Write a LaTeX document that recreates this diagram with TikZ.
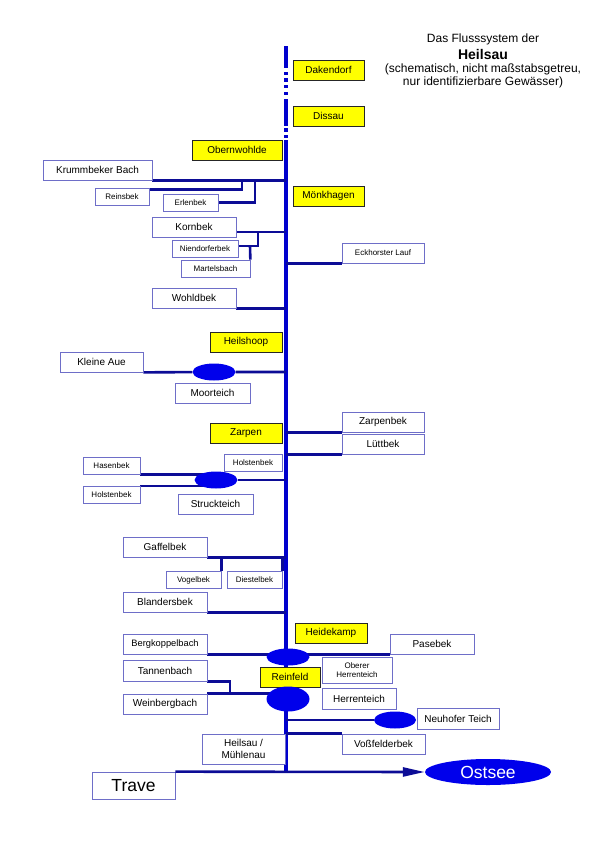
\documentclass[tikz,border=0pt]{standalone}
\usepackage{fontspec}
\setmainfont{Liberation Sans}
\usepackage{tikz}
\usetikzlibrary{arrows.meta,shapes.geometric,backgrounds}
\usepackage{xcolor}
\definecolor{hauptblau}{RGB}{0,0,205}
\definecolor{bachblau}{RGB}{12,12,150}
\definecolor{rahmen}{RGB}{110,110,200}
\definecolor{teichblau}{RGB}{0,0,235}
\definecolor{ortgelb}{RGB}{255,255,0}

\begin{document}
\begin{tikzpicture}[x=1pt, y=-1pt,
  font=\fontsize{10}{12}\selectfont,
  ort/.style={draw=black!85, fill=ortgelb, minimum height=20pt, inner sep=1pt, line width=0.8pt},
  bach/.style={draw=rahmen, fill=white, minimum height=20pt, inner sep=1pt, line width=0.7pt, align=center},
  klein/.style={bach, font=\fontsize{8}{9.5}\selectfont, minimum height=17pt},
  teich/.style={ellipse, fill=teichblau, minimum width=43pt, minimum height=17pt, inner sep=0pt},
  titelzeile/.style={font=\fontsize{12}{14}\selectfont, inner sep=0pt},
  fluss/.style={line width=2.6pt, color=bachblau},
  haupt/.style={line width=4.5pt, color=hauptblau}]
\useasboundingbox (0,0) rectangle (600,849);
% title
\node[titelzeile] (titel1) at (483,39) {Das Flusssystem der};
\node[titelzeile, font=\bfseries\fontsize{14}{16}\selectfont] (titel2) at (483,54) {Heilsau};
\node[titelzeile] (titel3) at (483,69) {(schematisch, nicht maßstabsgetreu,};
\node[titelzeile] (titel4) at (483,82) {nur identifizierbare Gewässer)};
% main river
\coordinate (quelle) at (286,46);
\coordinate (muendung) at (286,772);
% places
\node[ort, minimum width=71pt] (dakendorf) at (328.5,70) {Dakendorf};
\node[ort, minimum width=71pt] (dissau) at (328.5,116) {Dissau};
\node[ort, minimum width=90pt] (obernwohlde) at (237,150) {Obernwohlde};
\node[ort, minimum width=71pt] (moenkhagen) at (328.5,196) {Mönkhagen};
\node[ort, minimum width=72pt] (heilshoop) at (246,342) {Heilshoop};
\node[ort, minimum width=72pt] (zarpen) at (246,433) {Zarpen};
\node[ort, minimum width=72pt] (heidekamp) at (331,633) {Heidekamp};
\node[ort, minimum width=60pt] (reinfeld) at (290,677) {Reinfeld};
% upper tributaries
\node[bach, minimum width=109pt] (krummbeker) at (97.5,170) {Krummbeker Bach};
\node[klein, minimum width=54pt] (reinsbek) at (122,196.5) {Reinsbek};
\node[klein, minimum width=55pt] (erlenbek) at (190.5,202.5) {Erlenbek};
\node[bach, minimum width=84pt] (kornbek) at (194,227) {Kornbek};
\node[klein, minimum width=66pt] (niendorferbek) at (205,248.5) {Niendorferbek};
\node[klein, minimum width=69pt] (martelsbach) at (215.5,268.5) {Martelsbach};
\node[klein, minimum width=82pt, minimum height=20pt] (eckhorst) at (383,253) {Eckhorster Lauf};
\node[bach, minimum width=84pt] (wohldbek) at (194,298) {Wohldbek};
\node[bach, minimum width=83pt] (kleineaue) at (101.5,362) {Kleine Aue};
\node[teich] (moorteichP) at (214,372) {};
\node[bach, minimum width=75pt] (moorteich) at (212.5,393) {Moorteich};
% middle tributaries
\node[bach, minimum width=82pt] (zarpenbek) at (383,422) {Zarpenbek};
\node[bach, minimum width=82pt] (luettbek) at (383,444) {Lüttbek};
\node[klein, minimum width=58pt] (holstenbekA) at (253,462.5) {Holstenbek};
\node[klein, minimum width=57pt] (hasenbek) at (111.5,465.5) {Hasenbek};
\node[klein, minimum width=57pt] (holstenbekB) at (111.5,495) {Holstenbek};
\node[teich] (struckP) at (216,480) {};
\node[bach, minimum width=75pt] (struckteich) at (215.5,504) {Struckteich};
\node[bach, minimum width=84pt] (gaffelbek) at (165,547) {Gaffelbek};
\node[klein, minimum width=55pt] (vogelbek) at (193.5,580) {Vogelbek};
\node[klein, minimum width=55pt] (diestelbek) at (254.5,580) {Diestelbek};
\node[bach, minimum width=84pt] (blandersbek) at (165,602) {Blandersbek};
% lower tributaries
\node[bach, minimum width=84pt, font=\fontsize{9.3}{11}\selectfont] (bergkoppelbach) at (165,644) {Bergkoppelbach};
\node[bach, minimum width=84pt] (pasebek) at (432,644) {Pasebek};
\node[teich] (heideP) at (288,657) {};
\node[bach, minimum width=84pt, minimum height=21pt] (tannenbach) at (165,670.5) {Tannenbach};
\node[klein, minimum width=70pt, minimum height=26pt, font=\fontsize{8}{9}\selectfont] (obererherrenteich) at (357,670) {Oberer\\Herrenteich};
\node[bach, minimum width=84pt] (weinbergbach) at (165,704) {Weinbergbach};
\node[teich, minimum height=25pt] (reinfeldP) at (288,699) {};
\node[bach, minimum width=74pt, minimum height=21pt] (herrenteich) at (359,698.5) {Herrenteich};
\node[teich, minimum width=42pt] (neuhoferP) at (395,720) {};
\node[bach, minimum width=82pt, minimum height=21pt] (neuhofer) at (458,718.5) {Neuhofer Teich};
\node[bach, minimum width=83pt] (vossfelderbek) at (383.5,744) {Voßfelderbek};
\node[bach, minimum width=83pt, minimum height=30pt, font=\fontsize{10}{11.5}\selectfont] (muehlenau) at (243.5,749) {Heilsau /\\Mühlenau};
\node[bach, minimum width=83pt, minimum height=27pt, font=\fontsize{17.5}{20}\selectfont] (trave) at (133.5,785.5) {Trave};
\node[teich, minimum width=126pt, minimum height=26pt, text=white, font=\fontsize{17.5}{20}\selectfont] (ostsee) at (488,772) {Ostsee};
% junctions
\coordinate (j1) at (242,180);
\coordinate (j2) at (255,180);
\coordinate (j3) at (258,232);
\coordinate (j4) at (250,246);
\coordinate (j5) at (230,694);
\begin{scope}[on background layer]
\draw[haupt, dash pattern=on 22pt off 4pt on 3pt off 3pt on 4pt off 3pt on 3pt off 4pt on 3pt off 4pt on 27pt off 2pt on 4pt off 3pt on 3pt off 2pt on 700pt]
  (quelle) -- (muendung);
\draw[fluss] (krummbeker.south east) -- (krummbeker.south east -| quelle);
\draw[fluss] ([yshift=-2pt]reinsbek.north east) -| (j1);
\draw[fluss] (erlenbek.east) -| (j2);
\draw[fluss] ([yshift=-5pt]kornbek.east) -- ([yshift=-5pt]kornbek.east -| quelle);
\draw[fluss] ([yshift=2.5pt]niendorferbek.east) -| (j3);
\draw[fluss] (martelsbach.north east) -- (j4);
\draw[fluss] (eckhorst.south west) -- (eckhorst.south west -| quelle);
\draw[fluss] (wohldbek.south east) -- (wohldbek.south east -| quelle);
\draw[fluss] (kleineaue.south east) -- (moorteichP) -- (moorteichP -| quelle);
\draw[fluss] (zarpenbek.south west) -- (zarpenbek.south west -| quelle);
\draw[fluss] (luettbek.south west) -- (luettbek.south west -| quelle);
\draw[fluss] (hasenbek.south east) -- (hasenbek.south east -| struckP);
\draw[fluss] (holstenbekB.north east) -- (holstenbekB.north east -| struckP);
\draw[fluss] (struckP) -- (struckP -| quelle);
\draw[fluss] (gaffelbek.south east) -- (gaffelbek.south east -| quelle);
\draw[fluss] (vogelbek.north east) -- (vogelbek.north east |- gaffelbek.south);
\draw[fluss] (diestelbek.north east) -- (diestelbek.north east |- gaffelbek.south);
\draw[fluss] (blandersbek.south east) -- (blandersbek.south east -| quelle);
\draw[fluss] (bergkoppelbach.south east) -- (pasebek.south west);
\draw[fluss] (tannenbach.south east) -| (j5);
\draw[fluss] (weinbergbach.north east) -- (weinbergbach.north east -| reinfeldP);
\draw[fluss] (neuhoferP) -- (neuhoferP -| quelle);
\draw[fluss] (vossfelderbek.north west) -- (vossfelderbek.north west -| quelle);
\end{scope}
% outflow
\draw[fluss, -{Triangle[length=22pt,width=9pt]}] (trave.north east) -- (ostsee.west);
\end{tikzpicture}
\end{document}
